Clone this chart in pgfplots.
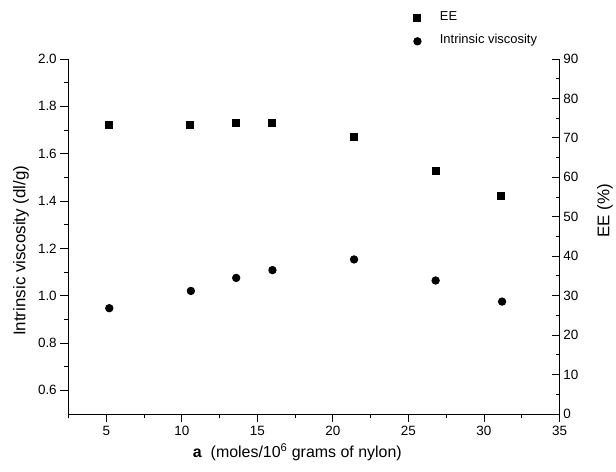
\documentclass[border=0pt]{standalone}
\usepackage{fontspec}
\setmainfont{Liberation Sans}
\usepackage{pgfplots}
\pgfplotsset{compat=1.18}
\begin{document}
\begin{tikzpicture}
\useasboundingbox (-68.5bp,-58bp) rectangle (547.5bp,414bp);
\pgfplotsset{
  base/.style={
    scale only axis, width=491bp, height=355bp,
    at={(0,0)}, anchor=south west,
    xmin=2.5, xmax=35,
    line width=0.9bp,
    major tick length=8bp, minor tick length=4bp,
    tick style={line width=0.9bp, black},
    /pgf/number format/assume math mode=true,
    tick label style={font=\fontsize{13.5}{15}\selectfont},
  }
}
\begin{axis}[base,
  axis x line*=bottom, axis y line*=left,
  tick align=outside,
  ymin=0.5, ymax=2.0,
  ytick={0.6,0.8,1.0,1.2,1.4,1.6,1.8,2.0},
  minor ytick={0.7,0.9,1.1,1.3,1.5,1.7,1.9},
  yticklabel style={/pgf/number format/.cd,fixed,fixed zerofill,precision=1},
  xtick={5,10,15,20,25,30,35},
  minor xtick={2.5,7.5,12.5,17.5,22.5,27.5,32.5},
  xlabel={\textbf{a}\ \ (moles/10\textsuperscript{6} grams of nylon)},
  xlabel style={at={(axis description cs:0.466,-0.107)}, anchor=center, font=\fontsize{16}{18}\selectfont},
  ylabel={Intrinsic viscosity (dl/g)},
  ylabel style={at={(axis description cs:-0.0967,0.46)}, anchor=center, font=\fontsize{17}{19}\selectfont},
]
\addplot[only marks, mark=*, mark size=3.7bp, black] coordinates {
(5.2,0.947) (10.6,1.020) (13.6,1.075) (16.0,1.108) (21.4,1.153) (26.8,1.064) (31.2,0.975)
};
\end{axis}
\begin{axis}[base,
  axis x line=none, axis y line*=right,
  tick align=inside,
  ymin=0, ymax=90,
  ytick={0,10,...,90},
  minor ytick={5,15,...,85},
  ylabel={EE (\%)},
  ylabel style={at={(axis description cs:1.0927,0.573)}, anchor=center, font=\fontsize{17}{19}\selectfont},
  legend style={draw=none, fill=none, at={(axis description cs:0.7016,1.137)}, anchor=north west,
    inner sep=0pt, outer sep=0pt, row sep=7bp,
    nodes={font=\fontsize{13}{15}\selectfont, text height=0.75em, text depth=0.25em, inner sep=3bp, anchor=west}},
  legend cell align=left,
  legend image code/.code={\path (-4bp,0) (19bp,0); \draw[#1] plot coordinates {(0bp,0bp)};},
]
\addplot[only marks, mark=square*, mark size=3.5bp, black] coordinates {
(5.16,73.3) (10.57,73.4) (13.57,73.9) (15.99,73.7) (21.41,70.2) (26.85,61.6) (31.15,55.4)
};
\addlegendentry{EE}
\addlegendimage{only marks, mark=*, mark size=3.7bp, black}
\addlegendentry{Intrinsic viscosity}
\end{axis}
\end{tikzpicture}
\end{document}
